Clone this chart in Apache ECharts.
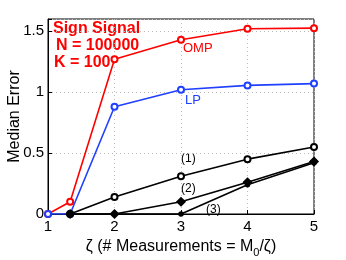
<!DOCTYPE html>
<html><head><meta charset="utf-8">
<script src="https://cdn.jsdelivr.net/npm/echarts@6/dist/echarts.min.js"></script>
<style>html,body{margin:0;padding:0;background:#fff}#c{width:346px;height:260px}</style>
</head><body><div id="c"></div>
<script>
const xOMP = [1, 1.333, 2, 3, 4, 5];
const omp = [0, 0.10, 1.27, 1.43, 1.52, 1.525];
const xLP = [1, 1.333, 2, 3, 4, 5];
const lp = [0, 0, 0.88, 1.02, 1.055, 1.07];
const xB = [1.333, 2, 3, 4, 5];
const s1 = [0, 0.14, 0.31, 0.45, 0.55];
const s2 = [0, 0, 0.10, 0.26, 0.43];
const s3 = [0, 0, 0, 0.24, 0.42];
const xTicks = [1, 2, 3, 4, 5];
const yTicks = [0, 0.5, 1, 1.5];

const zip = (xs, ys) => xs.map((x, i) => [x, ys[i]]);
const font = 'Liberation Sans';
function ser(name, xs, ys, color, symbol, size) {
  return {
    name, type: 'line', data: zip(xs, ys), symbol, symbolSize: size,
    lineStyle: { color, width: 1.6 }, itemStyle: { color, borderColor: color, borderWidth: 1.5 },
    z: 3
  };
}
const chart = echarts.init(document.getElementById('c'));
chart.setOption({
  animation: false,
  grid: { left: 48, right: 32, top: 19, bottom: 46, show: true, borderColor: '#000', borderWidth: 1,
          containLabel: false, outerBoundsMode: 'none' },
  xAxis: {
    type: 'value', min: 1, max: 5, interval: 1,
    axisLine: { lineStyle: { color: '#000' } },
    axisTick: { inside: true, length: 4, lineStyle: { color: '#000' } },
    axisLabel: { color: '#000', fontSize: 15, fontFamily: font, margin: 5 },
    splitLine: { show: true, lineStyle: { color: '#bbb', type: [1, 3] } },
    name: '{a|ζ (# Measurements = M}{s|0}{a|/ζ)}', nameLocation: 'middle', nameGap: 21,
    nameMoveOverlap: false,
    nameTextStyle: { rich: {
      a: { fontSize: 16, fontFamily: font, color: '#000' },
      s: { fontSize: 11, fontFamily: font, color: '#000', padding: [12, 0, 0, 0] }
    } }
  },
  yAxis: {
    type: 'value', min: 0, max: 1.6, interval: 0.5,
    axisLine: { lineStyle: { color: '#000' } },
    axisTick: { inside: true, length: 4, lineStyle: { color: '#000' } },
    axisLabel: { color: '#000', fontSize: 15, fontFamily: font, margin: 4,
      formatter: v => (yTicks.indexOf(v) >= 0 ? String(v) : '') },
    splitLine: { show: true, lineStyle: { color: '#bbb', type: [1, 3] } },
    name: 'Median Error', nameLocation: 'middle', nameGap: 25,
    nameMoveOverlap: false,
    nameTextStyle: { fontSize: 16, fontFamily: font, color: '#000' }
  },
  series: [
    ser('OMP', xOMP, omp, '#ff0000', 'emptyCircle', 6),
    ser('LP', xLP, lp, '#2040ff', 'emptyCircle', 6),
    ser('(1)', xB, s1, '#000', 'emptyCircle', 6),
    ser('(2)', xB, s2, '#000', 'diamond', 8),
    ser('(3)', xB, s3, '#000', 'circle', 4)
  ],
  graphic: [
    { type: 'text', left: 53, top: 21, style: { text: 'Sign Signal', fill: '#ff0000', font: 'bold 16px "Liberation Sans"' } },
    { type: 'text', left: 56, top: 38, style: { text: 'N = 100000', fill: '#ff0000', font: 'bold 16px "Liberation Sans"' } },
    { type: 'text', left: 54, top: 55, style: { text: 'K = 100', fill: '#ff0000', font: 'bold 16px "Liberation Sans"' } },
    { type: 'text', left: 183, top: 42, style: { text: 'OMP', fill: '#ff0000', font: '13px "Liberation Sans"' } },
    { type: 'text', left: 185, top: 94, style: { text: 'LP', fill: '#2040ff', font: '13px "Liberation Sans"' } },
    { type: 'text', left: 181, top: 153, style: { text: '(1)', fill: '#000', font: '12px "Liberation Sans"' } },
    { type: 'text', left: 181, top: 183, style: { text: '(2)', fill: '#000', font: '12px "Liberation Sans"' } },
    { type: 'text', left: 206, top: 204, style: { text: '(3)', fill: '#000', font: '12px "Liberation Sans"' } }
  ]
});
</script></body></html>
